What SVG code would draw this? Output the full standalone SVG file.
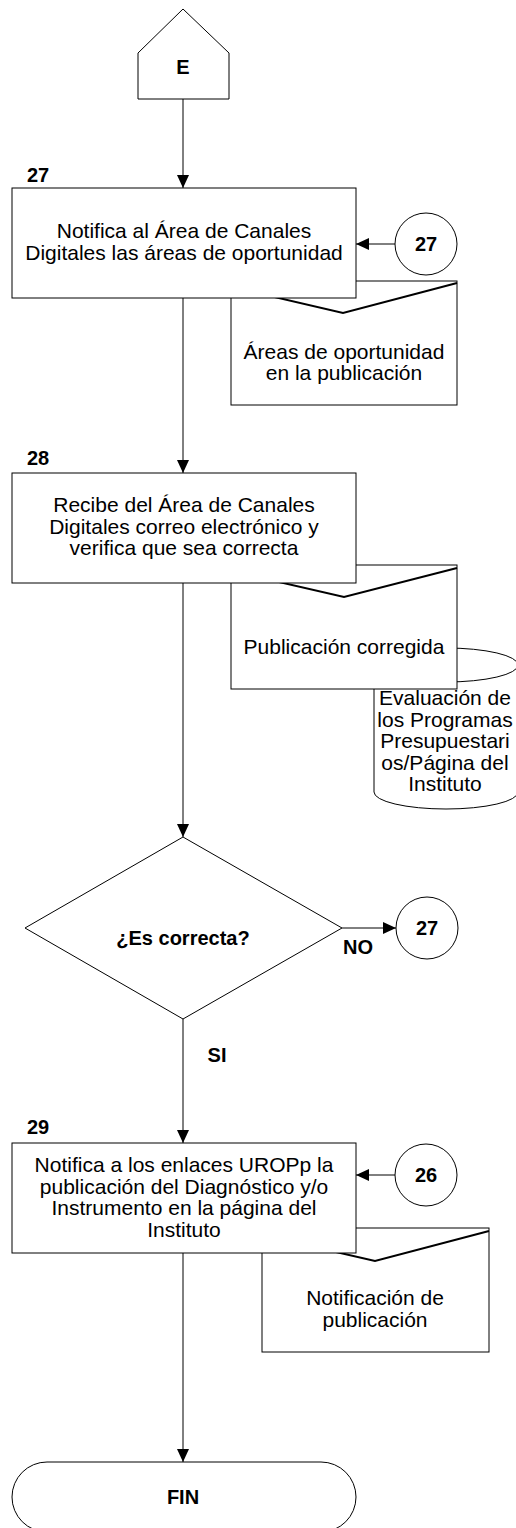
<svg xmlns="http://www.w3.org/2000/svg" width="516" height="1528" viewBox="0 0 516 1528">
<style>
.s{fill:#fff;stroke:#000;stroke-width:1}
.v{fill:none;stroke:#000;stroke-width:2}
.t{font-family:"Liberation Sans",Arial,sans-serif;font-size:21px;text-anchor:middle;fill:#000}
.b{font-family:"Liberation Sans",Arial,sans-serif;font-size:20px;font-weight:bold;fill:#000}
.c{text-anchor:middle}
.l{fill:none;stroke:#000;stroke-width:1}
</style>
<defs>
<marker id="ah" markerWidth="13" markerHeight="12" refX="13" refY="6" orient="auto" markerUnits="userSpaceOnUse">
<path d="M0,0 L13,6 L0,12 Z" fill="#000"/>
</marker>
</defs>
<g id="connectors">
<line class="l" x1="183" y1="99" x2="183" y2="188" marker-end="url(#ah)"/>
<line class="l" x1="183" y1="298" x2="183" y2="473" marker-end="url(#ah)"/>
<line class="l" x1="183" y1="583" x2="183" y2="837" marker-end="url(#ah)"/>
<line class="l" x1="183" y1="1019" x2="183" y2="1143" marker-end="url(#ah)"/>
<line class="l" x1="183" y1="1253" x2="183" y2="1462" marker-end="url(#ah)"/>
<line class="l" x1="395" y1="244" x2="356" y2="244" marker-end="url(#ah)"/>
<line class="l" x1="342" y1="928" x2="396" y2="928" marker-end="url(#ah)"/>
<line class="l" x1="395" y1="1175" x2="356" y2="1175" marker-end="url(#ah)"/>
<text class="b c" x="358" y="954">NO</text>
<text class="b c" x="217" y="1062">SI</text>
</g>
<g id="E">
<path class="s" d="M183,9 L229,53 L229,99 L138,99 L138,53 Z"/>
<text class="b c" x="183" y="74">E</text>
</g>
<g id="c27a">
<circle class="s" cx="426" cy="244" r="31"/>
<text class="b c" x="426" y="251">27</text>
</g>
<g id="doc1">
<rect class="s" x="231" y="281" width="226" height="124"/>
<polyline class="v" points="231,287 343,313 457,283"/>
<text class="t" x="344" y="359">Áreas de oportunidad</text>
<text class="t" x="344" y="380">en la publicación</text>
</g>
<g id="n27">
<text class="b" x="27" y="182">27</text>
<rect class="s" x="12" y="188" width="344" height="110"/>
<text class="t" x="184" y="238">Notifica al Área de Canales</text>
<text class="t" x="184" y="260">Digitales las áreas de oportunidad</text>
</g>
<g id="db">
<path class="s" d="M374,665 A72,17 0 0 1 518,665 L518,792 A72,17 0 0 1 374,792 Z"/>
<path class="l" d="M374,665 A72,17 0 0 0 518,665"/>
<text class="t" x="445" y="705">Evaluación de</text>
<text class="t" x="445" y="727">los Programas</text>
<text class="t" x="445" y="748">Presupuestari</text>
<text class="t" x="445" y="770">os/Página del</text>
<text class="t" x="445" y="791">Instituto</text>
</g>
<g id="doc2">
<rect class="s" x="231" y="565" width="226" height="124"/>
<polyline class="v" points="231,571 344,597 457,568"/>
<text class="t" x="344" y="654">Publicación corregida</text>
</g>
<g id="n28">
<text class="b" x="27" y="465">28</text>
<rect class="s" x="12" y="473" width="344" height="110"/>
<text class="t" x="184" y="512">Recibe del Área de Canales</text>
<text class="t" x="184" y="534">Digitales correo electrónico y</text>
<text class="t" x="184" y="555">verifica que sea correcta</text>
</g>
<g id="dec">
<path class="s" d="M183,837 L342,928 L183,1019 L25,928 Z"/>
<text class="b c" x="183" y="945">¿Es correcta?</text>
</g>
<g id="c27b">
<circle class="s" cx="427" cy="928" r="31"/>
<text class="b c" x="427" y="935">27</text>
</g>
<g id="c26">
<circle class="s" cx="426" cy="1175" r="31"/>
<text class="b c" x="426" y="1182">26</text>
</g>
<g id="doc3">
<rect class="s" x="262" y="1228" width="227" height="124"/>
<polyline class="v" points="262,1235 375,1261 489,1231"/>
<text class="t" x="375" y="1305">Notificación de</text>
<text class="t" x="375" y="1327">publicación</text>
</g>
<g id="n29">
<text class="b" x="27" y="1134">29</text>
<rect class="s" x="12" y="1143" width="344" height="110"/>
<text class="t" x="184" y="1172">Notifica a los enlaces UROPp la</text>
<text class="t" x="184" y="1194">publicación del Diagnóstico y/o</text>
<text class="t" x="184" y="1215">Instrumento en la página del</text>
<text class="t" x="184" y="1237">Instituto</text>
</g>
<g id="fin">
<rect class="s" x="12" y="1462" width="344" height="70" rx="35" ry="35"/>
<text class="b c" x="183" y="1504">FIN</text>
</g>
</svg>
